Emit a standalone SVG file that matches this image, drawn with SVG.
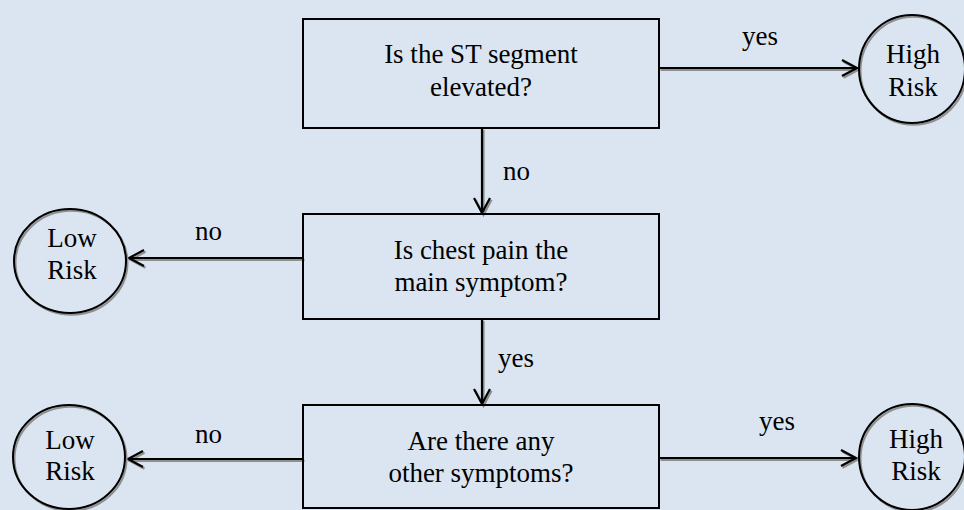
<svg xmlns="http://www.w3.org/2000/svg" xmlns:xlink="http://www.w3.org/1999/xlink" width="964" height="510" viewBox="0 0 964 510">
  <style>
    .box { fill: none; stroke: #000; stroke-width: 2; }
    .circ { fill: none; stroke-width: 2; }
    .t { font-family: 'Liberation Serif', 'Tinos', 'DejaVu Serif', 'Noto Serif', serif; font-size: 27px; fill: #000; }
    .c { text-anchor: middle; }
    .ln { fill: none; stroke-width: 2.2; stroke-linecap: butt; stroke-linejoin: miter; }
  </style>
  <defs>
    <path id="p1" d="M659,68 H856 M842,60 L857,68 L842,76"/>
    <path id="p2" d="M482,128 V212 M474,198 L482,213 L490,198"/>
    <path id="p3" d="M303,258 H130 M144,250 L129,258 L144,266"/>
    <path id="p4" d="M482,319 V403 M474,389 L482,404 L490,389"/>
    <path id="p5" d="M303,459 H129 M143,451 L128,459 L143,467"/>
    <path id="p6" d="M659,458 H855 M841,450 L856,458 L841,466"/>
    <ellipse id="e1" cx="912" cy="69" rx="53" ry="54"/>
    <ellipse id="e2" cx="70" cy="261" rx="56" ry="52"/>
    <ellipse id="e3" cx="69" cy="457" rx="56" ry="52"/>
    <ellipse id="e4" cx="912" cy="457" rx="53" ry="53"/>
  </defs>
  <rect x="0" y="0" width="964" height="510" fill="#DBE5F1"/>

  <g id="connectors">
    <g class="ln" stroke="#8f8f8f" transform="translate(1.5,1.8)">
      <use xlink:href="#p1"/><use xlink:href="#p2"/><use xlink:href="#p3"/>
      <use xlink:href="#p4"/><use xlink:href="#p5"/><use xlink:href="#p6"/>
    </g>
    <g class="ln" stroke="#000">
      <use xlink:href="#p1"/><use xlink:href="#p2"/><use xlink:href="#p3"/>
      <use xlink:href="#p4"/><use xlink:href="#p5"/><use xlink:href="#p6"/>
    </g>
    <text class="t c" x="760" y="45" font-family="Liberation Serif, serif">yes</text>
    <text class="t" x="503" y="180" font-family="Liberation Serif, serif">no</text>
    <text class="t" x="195" y="240" font-family="Liberation Serif, serif">no</text>
    <text class="t" x="498" y="367" font-family="Liberation Serif, serif">yes</text>
    <text class="t" x="195" y="443" font-family="Liberation Serif, serif">no</text>
    <text class="t c" x="777" y="430" font-family="Liberation Serif, serif">yes</text>
  </g>

  <g id="q1">
    <rect class="box" x="303" y="19" width="356" height="109"/>
    <text class="t c" x="481" y="63">Is the ST segment</text>
    <text class="t c" x="481" y="96">elevated?</text>
  </g>
  <g id="q2">
    <rect class="box" x="303" y="214" width="356" height="105"/>
    <text class="t c" x="481" y="259">Is chest pain the</text>
    <text class="t c" x="481" y="291">main symptom?</text>
  </g>
  <g id="q3">
    <rect class="box" x="303" y="405" width="356" height="103"/>
    <text class="t c" x="481" y="450">Are there any</text>
    <text class="t c" x="481" y="482">other symptoms?</text>
  </g>

  <g id="high1">
    <use xlink:href="#e1" class="circ" stroke="#8f8f8f" transform="translate(1.5,1.8)"/>
    <use xlink:href="#e1" class="circ" stroke="#000"/>
    <text class="t c" x="913" y="63">High</text>
    <text class="t c" x="913" y="96">Risk</text>
  </g>
  <g id="low1">
    <use xlink:href="#e2" class="circ" stroke="#8f8f8f" transform="translate(1.5,1.8)"/>
    <use xlink:href="#e2" class="circ" stroke="#000"/>
    <text class="t c" x="72" y="247">Low</text>
    <text class="t c" x="72" y="279">Risk</text>
  </g>
  <g id="low2">
    <use xlink:href="#e3" class="circ" stroke="#8f8f8f" transform="translate(1.5,1.8)"/>
    <use xlink:href="#e3" class="circ" stroke="#000"/>
    <text class="t c" x="70" y="449">Low</text>
    <text class="t c" x="70" y="480">Risk</text>
  </g>
  <g id="high2">
    <use xlink:href="#e4" class="circ" stroke="#8f8f8f" transform="translate(1.5,1.8)"/>
    <use xlink:href="#e4" class="circ" stroke="#000"/>
    <text class="t c" x="916" y="448">High</text>
    <text class="t c" x="916" y="480">Risk</text>
  </g>
</svg>
